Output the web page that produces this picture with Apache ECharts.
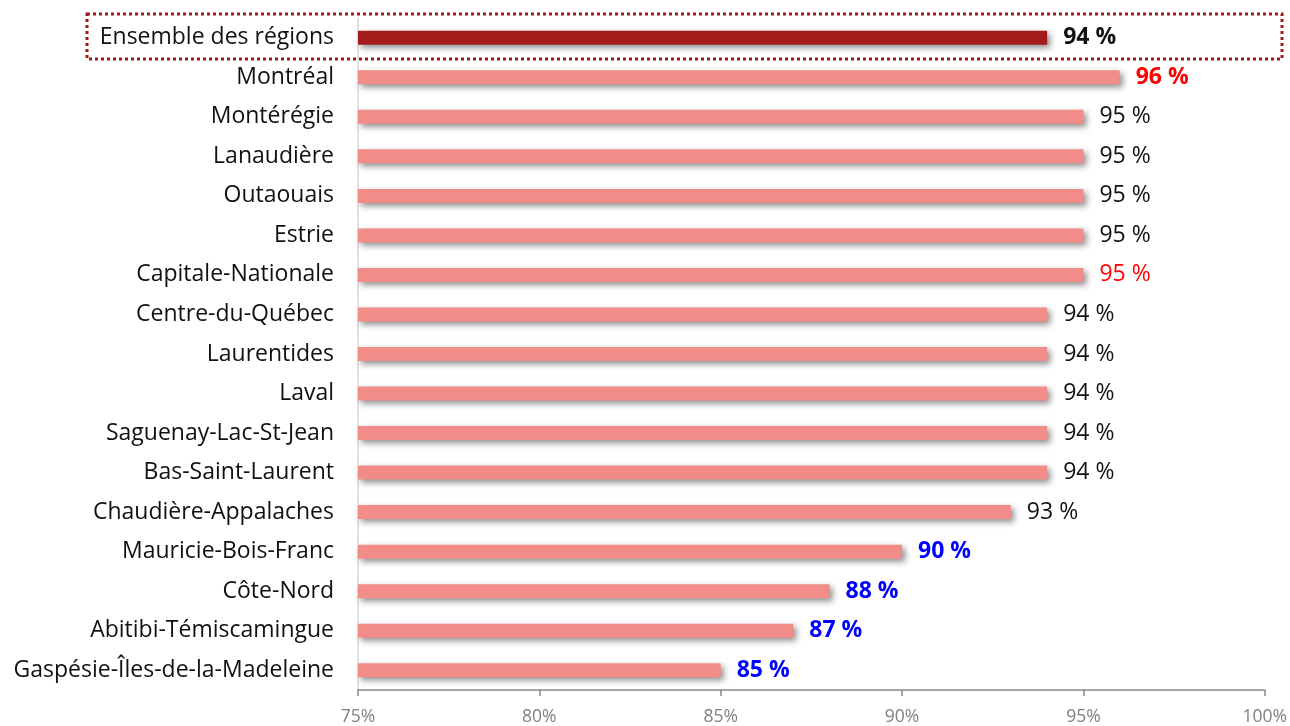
<!DOCTYPE html>
<html><head><meta charset="utf-8">
<script src="https://cdn.jsdelivr.net/npm/echarts@6/dist/echarts.min.js"></script>
<style>html,body{margin:0;padding:0;background:#fff;overflow:hidden}#c{width:1290px;height:726px}</style>
</head><body><div id="c"></div>
<script>
const categories = ['Ensemble des régions','Montréal','Montérégie','Lanaudière','Outaouais','Estrie','Capitale-Nationale','Centre-du-Québec','Laurentides','Laval','Saguenay-Lac-St-Jean','Bas-Saint-Laurent','Chaudière-Appalaches','Mauricie-Bois-Franc','Côte-Nord','Abitibi-Témiscamingue','Gaspésie-Îles-de-la-Madeleine'];
const values = [94,96,95,95,95,95,95,94,94,94,94,94,93,90,88,87,85];
const xTicks = [75,80,85,90,95,100];
const totalCategory = 'Ensemble des régions';
const redBold = ['Montréal'];
const redNormal = ['Capitale-Nationale'];
const blueBold = ['Mauricie-Bois-Franc','Côte-Nord','Abitibi-Témiscamingue','Gaspésie-Îles-de-la-Madeleine'];

const FONT = '"Open Sans", "Noto Sans", sans-serif';
function labelStyle(cat){
  if (cat === totalCategory) return {color:'#111', fontWeight:'bold'};
  if (redBold.includes(cat)) return {color:'#ff0000', fontWeight:'bold'};
  if (redNormal.includes(cat)) return {color:'#ff0000', fontWeight:'normal'};
  if (blueBold.includes(cat)) return {color:'#0000ff', fontWeight:'bold'};
  return {color:'#111', fontWeight:'normal'};
}
const data = values.map((v,i)=>{
  const cat = categories[i];
  const ls = labelStyle(cat);
  return {
    value: v,
    itemStyle: {color: cat === totalCategory ? '#a31b1b' : '#f28c89'},
    label: {color: ls.color, fontWeight: ls.fontWeight}
  };
});
const chart = echarts.init(document.getElementById('c'));
chart.setOption({
  animation:false,
  grid:{left:358, right:23, top:18, bottom:31, containLabel:false},
  xAxis:{type:'value', min:xTicks[0], max:xTicks[xTicks.length-1], interval:5,
    axisLine:{show:true, lineStyle:{color:'#888', width:1.5}},
    axisTick:{show:true, length:6, lineStyle:{color:'#888', width:1.5}},
    splitLine:{show:false},
    axisLabel:{formatter:'{value}%', color:'#808080', fontSize:17.5, fontFamily:FONT, margin:18}},
  yAxis:{type:'category', data:categories, inverse:true,
    axisLine:{show:true, lineStyle:{color:'#d9d9d9', width:1.5}},
    axisTick:{show:false},
    axisLabel:{color:'#111', fontSize:23, fontFamily:FONT, margin:24}},
  series:[{type:'bar', data:data, barWidth:14,
    itemStyle:{shadowBlur:6, shadowColor:'rgba(0,0,0,0.45)', shadowOffsetX:3, shadowOffsetY:3},
    label:{show:true, position:'right', distance:16, fontSize:23, fontFamily:FONT,
      formatter: p => p.value + ' %'}
  }],
  graphic:[{type:'rect', shape:{x:87, y:14, width:1195, height:45},
    style:{fill:'none', stroke:'#9e1b1b', lineWidth:3, lineDash:[3,3]}}]
});
</script></body></html>
